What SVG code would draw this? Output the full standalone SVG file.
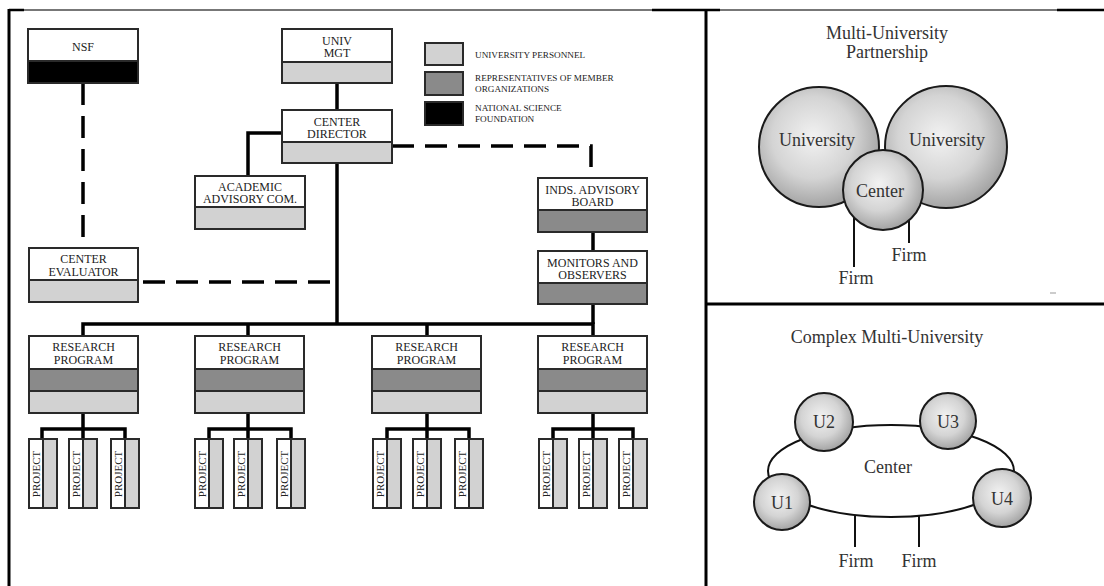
<svg xmlns="http://www.w3.org/2000/svg" width="1104" height="586" viewBox="0 0 1104 586">
<defs>
<radialGradient id="ball" cx="45%" cy="42%" r="62%">
<stop offset="0" stop-color="#f2f2f2"/>
<stop offset="0.55" stop-color="#d4d4d4"/>
<stop offset="1" stop-color="#9c9c9c"/>
</radialGradient>
<style>
.frame{stroke:#000;stroke-width:3;fill:none}
.box{stroke:#2a2a2a;stroke-width:2;}
.wh{fill:#ffffff}
.lg{fill:#d2d2d2}
.dg{fill:#8a8a8a}
.bk{fill:#000000}
.t{font-family:"Liberation Serif",serif;font-size:12px;fill:#222;text-anchor:middle}
.lt{font-family:"Liberation Serif",serif;font-size:9.2px;fill:#222}
.pt{font-family:"Liberation Serif",serif;font-size:11px;fill:#222;text-anchor:middle}
.rt{font-family:"Liberation Serif",serif;font-size:18px;fill:#333;text-anchor:middle}
.solid{stroke:#000;stroke-width:3.5;fill:none}
.dash{stroke:#000;stroke-width:3.5;fill:none;stroke-dasharray:22 11}
.thin{stroke:#111;stroke-width:2;fill:none}
.ball{fill:url(#ball);stroke:#1a1a1a;stroke-width:2}
</style>
</defs>
<rect width="1104" height="586" fill="#fff"/>
<g id="frame">
<line x1="9" y1="10" x2="1104" y2="10" stroke="#777" stroke-width="2"/>
<line x1="9" y1="10" x2="24" y2="10" stroke="#000" stroke-width="2.5"/>
<line x1="652" y1="10" x2="720" y2="10" stroke="#000" stroke-width="2.5"/>
<line x1="1057" y1="10" x2="1104" y2="10" stroke="#000" stroke-width="2.5"/>
<line class="frame" x1="9" y1="9" x2="9" y2="586"/>
<line class="frame" x1="706" y1="10" x2="706" y2="586"/>
<line class="frame" x1="706" y1="304" x2="1104" y2="304"/>
<line x1="1050" y1="293" x2="1056" y2="293" stroke="#999" stroke-width="1"/>
</g>
<g id="connectors">
<path class="dash" d="M83 83 V248"/>
<path class="dash" d="M143 282 H337"/>
<path class="dash" d="M392 146 H591 V178"/>
<path class="solid" d="M337 83 V110"/>
<path class="solid" d="M282 133 H248 V176"/>
<path class="solid" d="M337 163 V324"/>
<path class="solid" d="M593 232 V251"/>
<path class="solid" d="M593 304 V324"/>
<path class="solid" d="M83 336 V324 H593 V336"/>
<path class="solid" d="M248 324 V336"/>
<path class="solid" d="M427 324 V336"/>
<path class="solid" d="M83 413 V429 M42 439 V429 H125 V439 M83 429 V439"/>
<path class="solid" d="M248 413 V429 M209 439 V429 H291 V439 M248 429 V439"/>
<path class="solid" d="M427 413 V429 M387 439 V429 H469 V439 M427 429 V439"/>
<path class="solid" d="M593 413 V429 M553 439 V429 H633 V439 M593 429 V439"/>
</g>
<g id="legend">
<rect class="box lg" x="425" y="43" width="38" height="22"/>
<rect class="box dg" x="425" y="72" width="38" height="23"/>
<rect class="box bk" x="425" y="102" width="38" height="23"/>
<text class="lt" x="475" y="58">UNIVERSITY PERSONNEL</text>
<text class="lt" x="475" y="81">REPRESENTATIVES OF MEMBER</text>
<text class="lt" x="475" y="92">ORGANIZATIONS</text>
<text class="lt" x="475" y="111">NATIONAL SCIENCE</text>
<text class="lt" x="475" y="122">FOUNDATION</text>
</g>
<g id="nsf">
<rect class="box wh" x="28" y="29" width="110" height="32"/>
<rect class="box bk" x="28" y="61" width="110" height="22"/>
<text class="t" x="83" y="51">NSF</text>
</g>
<g id="univ-mgt">
<rect class="box wh" x="282" y="29" width="110" height="33"/>
<rect class="box lg" x="282" y="62" width="110" height="21"/>
<text class="t" x="337" y="45">UNIV</text>
<text class="t" x="337" y="57">MGT</text>
</g>
<g id="center-director">
<rect class="box wh" x="282" y="110" width="110" height="32"/>
<rect class="box lg" x="282" y="142" width="110" height="21"/>
<text class="t" x="337" y="126">CENTER</text>
<text class="t" x="337" y="138">DIRECTOR</text>
</g>
<g id="academic-advisory">
<rect class="box wh" x="195" y="176" width="110" height="31"/>
<rect class="box lg" x="195" y="207" width="110" height="22"/>
<text class="t" x="250" y="191">ACADEMIC</text>
<text class="t" x="250" y="203">ADVISORY COM.</text>
</g>
<g id="center-evaluator">
<rect class="box wh" x="29" y="248" width="109" height="32"/>
<rect class="box lg" x="29" y="280" width="109" height="22"/>
<text class="t" x="83.5" y="263">CENTER</text>
<text class="t" x="83.5" y="276">EVALUATOR</text>
</g>
<g id="inds-advisory-board">
<rect class="box wh" x="538" y="178" width="109" height="32"/>
<rect class="box dg" x="538" y="210" width="109" height="22"/>
<text class="t" x="592.5" y="194">INDS. ADVISORY</text>
<text class="t" x="592.5" y="206">BOARD</text>
</g>
<g id="monitors-observers">
<rect class="box wh" x="538" y="251" width="109" height="32"/>
<rect class="box dg" x="538" y="283" width="109" height="21"/>
<text class="t" x="592.5" y="267">MONITORS AND</text>
<text class="t" x="592.5" y="279">OBSERVERS</text>
</g>
<g id="research-program-1">
<rect class="box wh" x="29" y="336" width="109" height="33"/>
<rect class="box dg" x="29" y="369" width="109" height="22"/>
<rect class="box lg" x="29" y="391" width="109" height="22"/>
<text class="t" x="83.5" y="351">RESEARCH</text>
<text class="t" x="83.5" y="364">PROGRAM</text>
</g>
<g id="research-program-2">
<rect class="box wh" x="195" y="336" width="109" height="33"/>
<rect class="box dg" x="195" y="369" width="109" height="22"/>
<rect class="box lg" x="195" y="391" width="109" height="22"/>
<text class="t" x="249.5" y="351">RESEARCH</text>
<text class="t" x="249.5" y="364">PROGRAM</text>
</g>
<g id="research-program-3">
<rect class="box wh" x="372" y="336" width="109" height="33"/>
<rect class="box dg" x="372" y="369" width="109" height="22"/>
<rect class="box lg" x="372" y="391" width="109" height="22"/>
<text class="t" x="426.5" y="351">RESEARCH</text>
<text class="t" x="426.5" y="364">PROGRAM</text>
</g>
<g id="research-program-4">
<rect class="box wh" x="538" y="336" width="109" height="33"/>
<rect class="box dg" x="538" y="369" width="109" height="22"/>
<rect class="box lg" x="538" y="391" width="109" height="22"/>
<text class="t" x="592.5" y="351">RESEARCH</text>
<text class="t" x="592.5" y="364">PROGRAM</text>
</g>
<g id="projects">
<g id="p1a"><rect class="box wh" x="29" y="439" width="14" height="69"/><rect class="box lg" x="43" y="439" width="14" height="69"/><text class="pt" transform="translate(40,474) rotate(-90)">PROJECT</text></g>
<g id="p1b"><rect class="box wh" x="69" y="439" width="14" height="69"/><rect class="box lg" x="83" y="439" width="14" height="69"/><text class="pt" transform="translate(80,474) rotate(-90)">PROJECT</text></g>
<g id="p1c"><rect class="box wh" x="111" y="439" width="14" height="69"/><rect class="box lg" x="125" y="439" width="14" height="69"/><text class="pt" transform="translate(122,474) rotate(-90)">PROJECT</text></g>
<g id="p2a"><rect class="box wh" x="195" y="439" width="14" height="69"/><rect class="box lg" x="209" y="439" width="14" height="69"/><text class="pt" transform="translate(206,474) rotate(-90)">PROJECT</text></g>
<g id="p2b"><rect class="box wh" x="234" y="439" width="14" height="69"/><rect class="box lg" x="248" y="439" width="14" height="69"/><text class="pt" transform="translate(245,474) rotate(-90)">PROJECT</text></g>
<g id="p2c"><rect class="box wh" x="277" y="439" width="14" height="69"/><rect class="box lg" x="291" y="439" width="14" height="69"/><text class="pt" transform="translate(288,474) rotate(-90)">PROJECT</text></g>
<g id="p3a"><rect class="box wh" x="373" y="439" width="14" height="69"/><rect class="box lg" x="387" y="439" width="14" height="69"/><text class="pt" transform="translate(384,474) rotate(-90)">PROJECT</text></g>
<g id="p3b"><rect class="box wh" x="413" y="439" width="14" height="69"/><rect class="box lg" x="427" y="439" width="14" height="69"/><text class="pt" transform="translate(424,474) rotate(-90)">PROJECT</text></g>
<g id="p3c"><rect class="box wh" x="455" y="439" width="14" height="69"/><rect class="box lg" x="469" y="439" width="14" height="69"/><text class="pt" transform="translate(466,474) rotate(-90)">PROJECT</text></g>
<g id="p4a"><rect class="box wh" x="539" y="439" width="14" height="69"/><rect class="box lg" x="553" y="439" width="14" height="69"/><text class="pt" transform="translate(550,474) rotate(-90)">PROJECT</text></g>
<g id="p4b"><rect class="box wh" x="579" y="439" width="14" height="69"/><rect class="box lg" x="593" y="439" width="14" height="69"/><text class="pt" transform="translate(590,474) rotate(-90)">PROJECT</text></g>
<g id="p4c"><rect class="box wh" x="619" y="439" width="14" height="69"/><rect class="box lg" x="633" y="439" width="14" height="69"/><text class="pt" transform="translate(630,474) rotate(-90)">PROJECT</text></g>
</g>
<g id="multi-university-partnership">
<text class="rt" x="887" y="39">Multi-University</text>
<text class="rt" x="887" y="58">Partnership</text>
<line class="thin" x1="854" y1="215" x2="854" y2="267"/>
<line class="thin" x1="909" y1="215" x2="909" y2="243"/>
<g id="univ-left"><circle class="ball" cx="819" cy="147" r="60"/><text class="rt" x="817" y="146">University</text></g>
<g id="univ-right"><circle class="ball" cx="946" cy="147" r="61"/><text class="rt" x="947" y="146">University</text></g>
<g id="center-a"><circle class="ball" cx="883" cy="190" r="40"/><text class="rt" x="880" y="197">Center</text></g>
<text class="rt" x="856" y="284">Firm</text>
<text class="rt" x="909" y="261">Firm</text>
</g>
<g id="complex-multi-university">
<text class="rt" x="887" y="343">Complex Multi-University</text>
<ellipse cx="891" cy="471" rx="123" ry="46" fill="none" stroke="#111" stroke-width="2"/>
<line class="thin" x1="855" y1="515" x2="855" y2="547"/>
<line class="thin" x1="919" y1="516" x2="919" y2="547"/>
<text class="rt" x="888" y="473">Center</text>
<g id="u1"><circle class="ball" cx="782" cy="502" r="28"/><text class="rt" x="782" y="509">U1</text></g>
<g id="u2"><circle class="ball" cx="824" cy="422" r="29"/><text class="rt" x="824" y="428">U2</text></g>
<g id="u3"><circle class="ball" cx="948" cy="421" r="28"/><text class="rt" x="948" y="428">U3</text></g>
<g id="u4"><circle class="ball" cx="1002" cy="498" r="29"/><text class="rt" x="1002" y="505">U4</text></g>
<text class="rt" x="856" y="567">Firm</text>
<text class="rt" x="919" y="567">Firm</text>
</g>
</svg>
